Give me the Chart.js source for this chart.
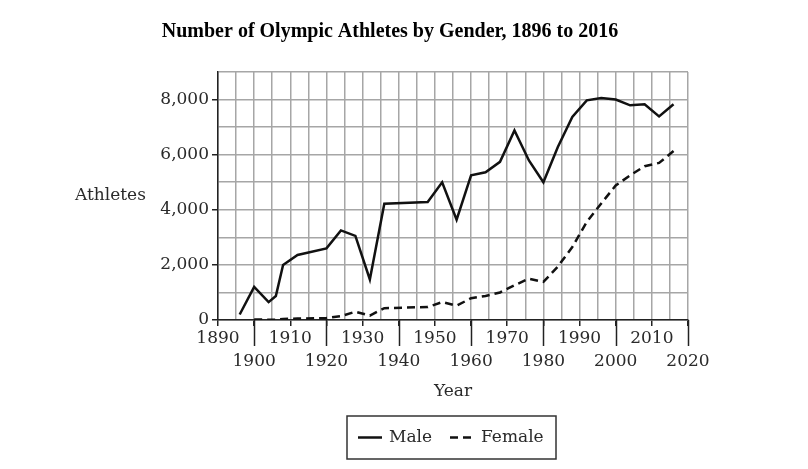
<!DOCTYPE html>
<html>
<head>
<meta charset="utf-8">
<script src="https://cdn.jsdelivr.net/npm/chart.js@4/dist/chart.umd.min.js"></script>
<style>
  html, body { margin: 0; padding: 0; background: #fff; }
  #wrap { width: 808px; height: 469px; }
</style>
</head>
<body>
<div id="wrap"><canvas id="olyChart" width="808" height="469"></canvas></div>
<script>
const years = [1896, 1900, 1904, 1906, 1908, 1912, 1920, 1924, 1928, 1932, 1936, 1948, 1952, 1956,
    1960, 1964, 1968, 1972, 1976, 1980, 1984, 1988, 1992, 1996, 2000, 2004, 2008, 2012, 2016];
const male = [200, 1200, 650, 870, 2000, 2360, 2600, 3250, 3050, 1470, 4220, 4280, 5000, 3640,
    5250, 5360, 5740, 6880, 5790, 5000, 6280, 7370, 7970, 8060, 8000, 7790, 7830, 7390, 7830];
const female = [null, 20, 10, 10, 40, 50, 70, 140, 300, 160, 430, 470, 650, 520,
    790, 870, 1000, 1260, 1500, 1380, 1940, 2650, 3560, 4230, 4880, 5250, 5580, 5700, 6130];

const chartTitle = 'Number of Olympic Athletes by Gender, 1896 to 2016';
const yTitle = 'Athletes';
const xTitle = 'Year';
const seriesNames = ['Male', 'Female'];

const serif = '"DejaVu Serif", serif';
const textColor = '#2a2a2a';

const toPoints = (vals) => years.map((yr, i) => ({ x: yr, y: vals[i] }));

// title, axis titles, long x ticks and the boxed legend
const decor = {
    id: 'decor',
    afterDraw(chart) {
        const ctx = chart.ctx;
        const a = chart.chartArea;
        const xs = chart.scales.x;
        const cx = (a.left + a.right) / 2;
        ctx.save();

        ctx.strokeStyle = '#222';
        ctx.lineWidth = 1.5;
        for (let yr = 1900; yr <= 2020; yr += 20) {
            const px = Math.round(xs.getPixelForValue(yr)) + 0.5;
            ctx.beginPath();
            ctx.moveTo(px, a.bottom);
            ctx.lineTo(px, a.bottom + 26);
            ctx.stroke();
        }

        ctx.fillStyle = '#000';
        ctx.font = 'bold 20px "Liberation Serif", serif';
        ctx.textAlign = 'center';
        ctx.textBaseline = 'middle';
        ctx.fillText(chartTitle, 390, 32);

        ctx.fillStyle = textColor;
        ctx.font = '17px ' + serif;
        ctx.textAlign = 'left';
        ctx.fillText(yTitle, 75, 196);

        ctx.textAlign = 'center';
        ctx.fillText(xTitle, cx, 392);

        // legend
        const bx = cx - 106, by = 416, bw = 209, bh = 43;
        ctx.strokeStyle = '#333';
        ctx.lineWidth = 1.5;
        ctx.strokeRect(bx, by, bw, bh);
        const ly = by + bh / 2;
        ctx.strokeStyle = '#111';
        ctx.lineWidth = 2.5;
        ctx.beginPath();
        ctx.moveTo(bx + 11, ly);
        ctx.lineTo(bx + 35, ly);
        ctx.stroke();
        ctx.setLineDash([8, 5]);
        ctx.beginPath();
        ctx.moveTo(bx + 103, ly);
        ctx.lineTo(bx + 127, ly);
        ctx.stroke();
        ctx.setLineDash([]);
        ctx.textAlign = 'left';
        ctx.fillStyle = textColor;
        ctx.fillText(seriesNames[0], bx + 42, ly);
        ctx.fillText(seriesNames[1], bx + 134, ly);

        ctx.restore();
    }
};

const olyChart = document.getElementById('olyChart');

new Chart(olyChart, {
    type: 'line',
    data: {
        datasets: [{
            label: seriesNames[0],
            data: toPoints(male),
            borderColor: '#111',
            borderWidth: 2.5,
            pointRadius: 0,
            tension: 0,
        }, {
            label: seriesNames[1],
            data: toPoints(female),
            borderColor: '#111',
            borderWidth: 2.5,
            borderDash: [8, 5],
            pointRadius: 0,
            tension: 0,
        }]
    },
    plugins: [decor],
    options: {
        responsive: false,
        animation: false,
        layout: {
            padding: { top: 72, right: 120, bottom: 0, left: 0 }
        },
        plugins: {
            legend: { display: false },
            title: { display: false },
            tooltip: { enabled: false },
        },
        scales: {
            x: {
                type: 'linear',
                min: 1890,
                max: 2020,
                afterFit: (scale) => { scale.height = 149; },
                border: { color: '#222', width: 1.5 },
                grid: {
                    color: '#a6a6a6',
                    lineWidth: 1.5,
                    tickLength: 6,
                    tickColor: (c) => (c.tick && c.tick.value % 10 === 0) ? '#222' : 'rgba(0,0,0,0)',
                },
                ticks: {
                    stepSize: 5,
                    autoSkip: false,
                    maxRotation: 0,
                    padding: 2,
                    color: textColor,
                    font: { family: serif, size: 17, lineHeight: 1.3 },
                    callback: (v) => {
                        if (v % 10 !== 0) return '';
                        return (v % 20 === 10) ? [String(v), ''] : ['', String(v)];
                    }
                }
            },
            y: {
                min: 0,
                max: 9000,
                afterFit: (scale) => { scale.width = 218; },
                border: { color: '#222', width: 1.5 },
                grid: {
                    color: '#a6a6a6',
                    lineWidth: 1.5,
                    tickLength: 6,
                    tickColor: (c) => (c.tick && c.tick.value % 2000 === 0) ? '#222' : 'rgba(0,0,0,0)',
                },
                ticks: {
                    stepSize: 1000,
                    padding: 3,
                    color: textColor,
                    font: { family: serif, size: 17 },
                    callback: (v) => (v % 2000 === 0 && v <= 8000) ? v.toLocaleString('en-US') : ''
                }
            }
        }
    }
});
</script>
</body>
</html>
